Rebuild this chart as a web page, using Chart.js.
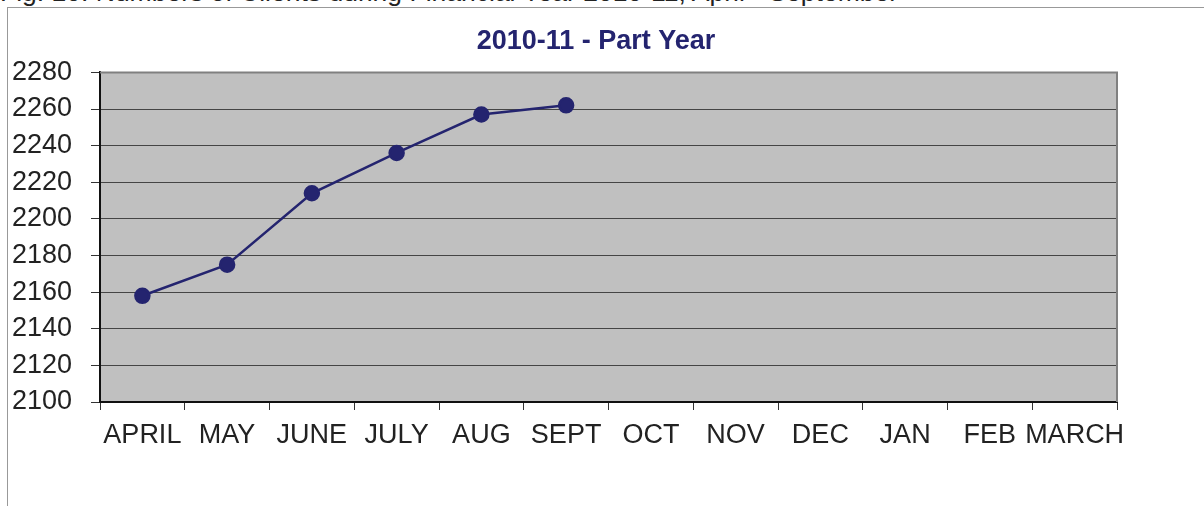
<!DOCTYPE html>
<html>
<head>
<meta charset="utf-8">
<script src="https://cdn.jsdelivr.net/npm/chart.js@4"></script>
<style>
  body { margin: 0; background: #fff; overflow: hidden; }
  #wrap { position: relative; width: 1204px; height: 506px; }
  #caption {
    position: absolute; left: 0; top: -21px; white-space: nowrap;
    font: 26.5px/26px "Liberation Sans", Arial, sans-serif; color: #222;
  }
  #frame {
    position: absolute; left: 7px; top: 7px; width: 1300px; height: 600px;
    border-left: 1px solid #999; border-top: 1px solid #999;
  }
  canvas { position: absolute; left: 0; top: 0; }
</style>
</head>
<body>
<div id="wrap">
  <div id="caption">Fig. 10. Numbers of Clients during Financial Year 2010-11, April - September</div>
  <div id="frame"></div>
  <canvas id="clientChart" width="1204" height="506"></canvas>
</div>
<script>
// months of the financial year
const months = ["APRIL", "MAY", "JUNE", "JULY", "AUG", "SEPT", "OCT", "NOV", "DEC", "JAN", "FEB", "MARCH"];
// number of clients, only April - September known so far
const clients = [2158, 2175, 2214, 2236, 2257, 2262, null, null, null, null, null, null];
const yMin = 2100;
const yMax = 2280;
const yStep = 20;

const navy = "#24246f";
const fontFamily = "'Liberation Sans', Arial, sans-serif";

// grey plot area with the grey top/right border
const plotBackground = {
  id: "plotBackground",
  beforeDraw(chart) {
    const { ctx, chartArea: a } = chart;
    ctx.save();
    ctx.fillStyle = "#c0c0c0";
    ctx.fillRect(a.left, a.top, a.right - a.left, a.bottom - a.top);
    ctx.restore();
  },
  beforeDatasetsDraw(chart) {
    const { ctx, chartArea: a } = chart;
    ctx.save();
    ctx.strokeStyle = "#808080";
    ctx.lineWidth = 2;
    ctx.beginPath();
    ctx.moveTo(a.left, a.top);
    ctx.lineTo(a.right, a.top);
    ctx.lineTo(a.right, a.bottom);
    ctx.stroke();
    ctx.restore();
  }
};

const ctx = document.getElementById("clientChart").getContext("2d");
new Chart(ctx, {
  type: "line",
  data: {
    labels: months,
    datasets: [{
      label: "Clients",
      data: clients,
      borderColor: navy,
      backgroundColor: navy,
      borderWidth: 2.5,
      pointRadius: 7,
      pointHoverRadius: 7,
      pointBackgroundColor: navy,
      pointBorderColor: navy,
      tension: 0
    }]
  },
  options: {
    responsive: false,
    animation: false,
    layout: { padding: { left: 0, right: 12, top: 0, bottom: 0 } },
    plugins: {
      legend: { display: false },
      tooltip: { enabled: false },
      title: {
        display: true,
        text: "2010-11 - Part Year",
        color: navy,
        font: { family: fontFamily, size: 27, weight: "bold" },
        padding: { top: 25, bottom: 15 }
      }
    },
    scales: {
      x: {
        offset: true,
        grid: {
          offset: true,
          drawOnChartArea: false,
          drawTicks: true,
          tickLength: 8,
          tickColor: "#333"
        },
        border: { color: "#111", width: 2 },
        ticks: {
          color: "#222",
          font: { family: fontFamily, size: 27 },
          maxRotation: 0,
          minRotation: 0,
          autoSkip: false,
          padding: 9
        },
        afterFit(scale) { scale.height = 104; }
      },
      y: {
        min: yMin,
        max: yMax,
        grid: {
          color: "#454545",
          lineWidth: 1,
          tickLength: 9,
          tickColor: "#333"
        },
        border: { color: "#111", width: 2 },
        ticks: {
          stepSize: yStep,
          color: "#222",
          font: { family: fontFamily, size: 27 },
          padding: 19,
          callback: v => String(v)
        },
        afterFit(scale) { scale.width = 100; }
      },
      // empty right axis, only keeps room on the right so the title centres like the original
      yRight: {
        position: "right",
        display: true,
        grid: { drawOnChartArea: false, drawTicks: false },
        border: { display: false },
        ticks: { display: false },
        afterFit(scale) { scale.width = 75; }
      }
    }
  },
  plugins: [plotBackground]
});
</script>
</body>
</html>
